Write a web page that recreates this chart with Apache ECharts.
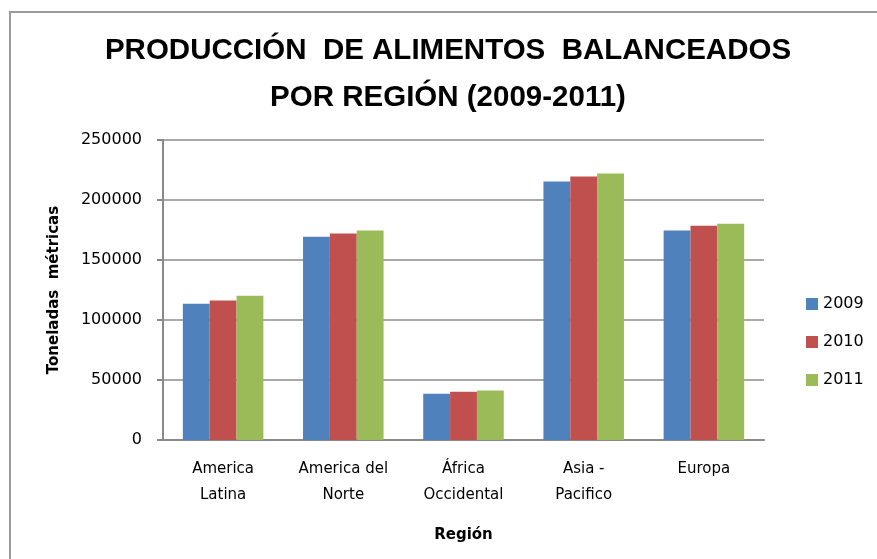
<!DOCTYPE html>
<html>
<head>
<meta charset="utf-8">
<script src="https://cdn.jsdelivr.net/npm/echarts@6/dist/echarts.min.js"></script>
<style>
html,body{margin:0;padding:0;background:#fff;}
#chart{width:877px;height:559px;}
</style>
</head>
<body>
<div id="chart"></div>
<script>
var titleText = 'PRODUCCIÓN  DE ALIMENTOS  BALANCEADOS\nPOR REGIÓN (2009-2011)';
var categories = ['America\nLatina', 'America del\nNorte', 'África\nOccidental', 'Asia -\nPacifico', 'Europa'];
var seriesNames = ['2009', '2010', '2011'];
var values2009 = [113500, 169300, 38500, 215400, 174600];
var values2010 = [116300, 172100, 40200, 219600, 178500];
var values2011 = [120200, 174600, 41300, 222100, 180200];
var yTicks = { min: 0, max: 250000, interval: 50000 };
var colors = ['#4F81BD', '#C0504D', '#9BBB59'];
var TITLE_FONT = 'Liberation Sans';
var FONT = 'DejaVu Sans';

var chart = echarts.init(document.getElementById('chart'), null, { renderer: 'canvas' });
var allValues = [values2009, values2010, values2011];
chart.setOption({
  backgroundColor: '#ffffff',
  animation: false,
  graphic: [{
    type: 'rect',
    shape: { x: 10, y: 12, width: 900, height: 600 },
    style: { fill: 'none', stroke: '#9a9a9a', lineWidth: 2 },
    silent: true
  }, {
    type: 'text',
    x: 448,
    y: 27,
    silent: true,
    style: {
      text: titleText,
      align: 'center',
      verticalAlign: 'top',
      fontFamily: TITLE_FONT,
      fontSize: 29.5,
      fontWeight: 'bold',
      lineHeight: 47,
      fill: '#000'
    }
  }],
  legend: {
    orient: 'vertical',
    left: 801,
    top: 291,
    itemWidth: 12,
    itemHeight: 12,
    itemGap: 22,
    icon: 'rect',
    textStyle: { fontFamily: FONT, fontSize: 16, color: '#000', padding: [0, 0, 0, 0] },
    data: seriesNames
  },
  grid: { left: 163, right: 113, top: 140, bottom: 119, containLabel: false },
  xAxis: {
    type: 'category',
    data: categories,
    name: 'Región',
    nameLocation: 'middle',
    nameGap: 88,
    nameTextStyle: { fontFamily: FONT, fontSize: 15, fontWeight: 'bold', color: '#000' },
    axisLine: { show: true, lineStyle: { color: '#8a8a8a', width: 2 } },
    axisTick: { show: false },
    axisLabel: { interval: 0, fontFamily: FONT, fontSize: 15, color: '#000', lineHeight: 26, margin: 16 }
  },
  yAxis: {
    type: 'value',
    min: yTicks.min,
    max: yTicks.max,
    interval: yTicks.interval,
    name: 'Toneladas  métricas',
    nameLocation: 'middle',
    nameGap: 101,
    nameTextStyle: { fontFamily: FONT, fontSize: 15, fontWeight: 'bold', color: '#000' },
    axisLine: { show: true, lineStyle: { color: '#8a8a8a', width: 2 } },
    axisTick: { show: true, length: 6, lineStyle: { color: '#8a8a8a', width: 2 } },
    axisLabel: { fontFamily: FONT, fontSize: 16, color: '#000', margin: 21, formatter: function (v) { return String(v); } },
    splitLine: { show: true, lineStyle: { color: '#8c8c8c', width: 1.5 } }
  },
  series: seriesNames.map(function (n, i) {
    return {
      name: n,
      type: 'bar',
      data: allValues[i],
      barGap: '0%',
      barCategoryGap: '33%',
      itemStyle: { color: colors[i] }
    };
  })
});
</script>
</body>
</html>
